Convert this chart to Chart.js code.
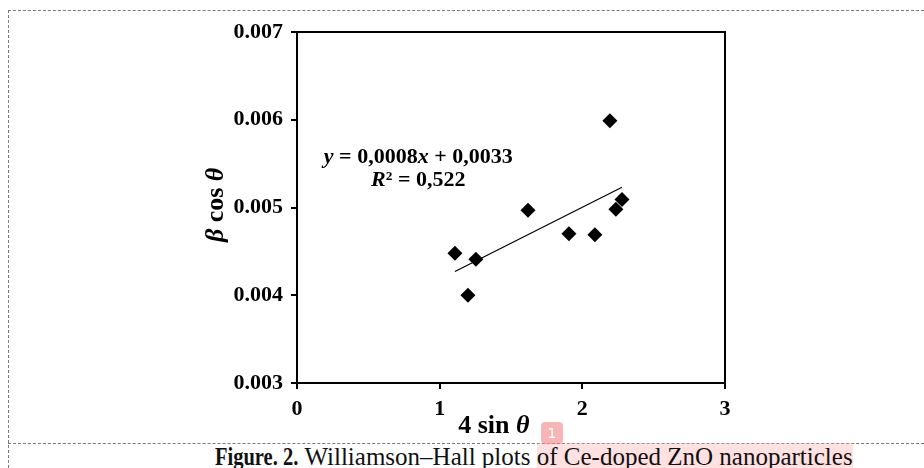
<!DOCTYPE html>
<html>
<head>
<meta charset="utf-8">
<script src="https://cdn.jsdelivr.net/npm/chart.js@4"></script>
<style>
  body { margin: 0; background: #fff; }
  #wrap { position: relative; width: 924px; height: 468px; overflow: hidden; font-family: "Liberation Serif", serif; }
  #chart { position: absolute; left: 0; top: 0; }
  .dash-h { position: absolute; left: 8px; right: 0; height: 0; border-top: 1px dashed #7a7a7a; }
  .dash-v { position: absolute; left: 8px; top: 10px; bottom: 0; width: 0; border-left: 1px dashed #7a7a7a; }
  #caption { position: absolute; left: 215px; top: 445px; font-size: 25px; line-height: 24px; white-space: nowrap; color: #111; }
  #caption b { display: inline-block; transform: scaleX(0.82); transform-origin: left center; margin-right: -18px; }
  #caption .hl { background: rgba(255, 170, 170, 0.35); }
  #badge { position: absolute; left: 541px; top: 422px; width: 22px; height: 22px; border-radius: 4px;
           background: rgba(240, 120, 120, 0.55); color: #fff; font: 14px "DejaVu Sans", sans-serif;
           text-align: center; line-height: 22px; }
</style>
</head>
<body>
<div id="wrap">
  <div class="dash-h" style="top:10px"></div>
  <div class="dash-v"></div>
  <div class="dash-h" style="top:443px"></div>
  <canvas id="chart" width="924" height="440"></canvas>
  <div id="caption"><b>Figure. 2.</b> Williamson–Hall plots <span class="hl">of Ce-doped ZnO nanoparticles</span></div>
  <div id="badge">1</div>
</div>
<script>
// measured points: 4 sin θ vs β cos θ
const xValues = [1.107, 1.198, 1.254, 1.619, 1.906, 2.088, 2.193, 2.235, 2.278];
const yValues = [0.00448, 0.00400, 0.00441, 0.00497, 0.00470, 0.00469, 0.00599, 0.00498, 0.00509];

// linear trendline ends
const trendX = [1.107, 2.278];
const trendY = [0.00427, 0.00523];

const xTicks = [0, 1, 2, 3];
const yTicks = [0.003, 0.004, 0.005, 0.006, 0.007];

const eqLine1 = [["y", true], [" = 0,0008", false], ["x", true], [" + 0,0033", false]];
const eqLine2 = [["R", true], ["² = 0,522", false]];

const FONT = '"Liberation Serif", serif';

function drawRuns(ctx, runs, x, y, size) {
  let total = 0;
  const widths = runs.map(r => {
    ctx.font = (r[1] ? 'italic ' : '') + 'bold ' + size + 'px ' + FONT;
    const w = ctx.measureText(r[0]).width;
    total += w;
    return w;
  });
  let cx = x - total / 2;
  runs.forEach((r, i) => {
    ctx.font = (r[1] ? 'italic ' : '') + 'bold ' + size + 'px ' + FONT;
    ctx.fillText(r[0], cx, y);
    cx += widths[i];
  });
}

const extras = {
  id: 'extras',
  afterDraw(chart) {
    const ctx = chart.ctx;
    const a = chart.chartArea;
    const xs = chart.scales.x, ys = chart.scales.y;
    ctx.save();
    // plot frame
    ctx.strokeStyle = '#000';
    ctx.lineWidth = 2;
    ctx.strokeRect(a.left, a.top, a.right - a.left, a.bottom - a.top);
    ctx.fillStyle = '#000';
    ctx.textBaseline = 'middle';
    // equation
    drawRuns(ctx, eqLine1, xs.getPixelForValue(0.85), ys.getPixelForValue(0.00557), 22);
    drawRuns(ctx, eqLine2, xs.getPixelForValue(0.85), ys.getPixelForValue(0.00531), 22);
    // axis titles
    drawRuns(ctx, [["4 sin ", false], ["θ", true]], xs.getPixelForValue(1.38), 426, 26);
    ctx.translate(216, ys.getPixelForValue(0.00503));
    ctx.rotate(-Math.PI / 2);
    drawRuns(ctx, [["β", true], [" cos ", false], ["θ", true]], 0, 0, 26);
    ctx.restore();
  }
};

const tickFont = { family: FONT, size: 22, weight: 'bold' };

new Chart(document.getElementById('chart'), {
  type: 'scatter',
  data: {
    datasets: [
      {
        data: xValues.map((x, i) => ({ x: x, y: yValues[i] })),
        pointStyle: 'rectRot',
        pointRadius: 7.5,
        backgroundColor: '#000',
        borderColor: '#000',
        borderWidth: 0
      },
      {
        data: trendX.map((x, i) => ({ x: x, y: trendY[i] })),
        showLine: true,
        pointRadius: 0,
        borderColor: '#000',
        borderWidth: 1.2
      }
    ]
  },
  options: {
    responsive: false,
    animation: false,
    devicePixelRatio: 1,
    layout: { padding: { left: 207, right: 199, top: 32, bottom: 0 } },
    plugins: { legend: { display: false }, tooltip: { enabled: false } },
    scales: {
      x: {
        type: 'linear', min: 0, max: 3,
        afterBuildTicks: s => { s.ticks = xTicks.map(v => ({ value: v })); },
        afterFit: s => { s.height = 57; },
        ticks: { font: tickFont, color: '#000', padding: 7, callback: v => String(v) },
        grid: { drawOnChartArea: false, drawTicks: true, tickLength: 6, color: '#000', lineWidth: 2 },
        border: { display: true, color: '#000', width: 2 }
      },
      y: {
        min: 0.003, max: 0.007,
        afterBuildTicks: s => { s.ticks = yTicks.map(v => ({ value: v })); },
        afterFit: s => { s.width = 90; },
        ticks: { font: tickFont, color: '#000', padding: 8, callback: v => v.toFixed(3) },
        grid: { drawOnChartArea: false, drawTicks: true, tickLength: 6, color: '#000', lineWidth: 2 },
        border: { display: true, color: '#000', width: 2 }
      }
    }
  },
  plugins: [extras]
});
</script>
</body>
</html>
